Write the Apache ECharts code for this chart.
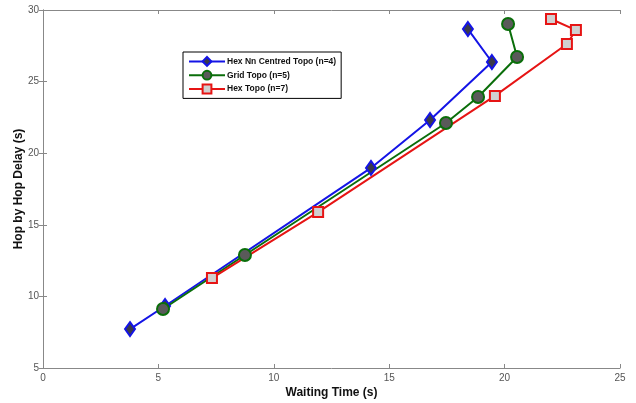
<!DOCTYPE html>
<html>
<head>
<meta charset="utf-8">
<script src="https://cdn.jsdelivr.net/npm/echarts@6/dist/echarts.min.js"></script>
<style>
  html, body { margin: 0; padding: 0; background: #fff; }
  #chart { width: 636px; height: 403px; }
</style>
</head>
<body>
<div id="chart"></div>
<script>
// values, [waiting time, hop delay]
const hexNnData = [[3.77, 7.72], [5.29, 9.33], [14.21, 18.97], [16.77, 22.32], [19.45, 26.37], [18.41, 28.67]];
const gridData = [[5.2, 9.12], [8.75, 12.89], [17.46, 22.11], [18.85, 23.92], [20.54, 26.72], [20.15, 29.02]];
const hexData = [[7.32, 11.28], [11.92, 15.89], [19.58, 24.0], [22.7, 27.63], [23.09, 28.6], [22.01, 29.37]];
const seriesNames = ['Hex Nn Centred Topo (n=4)', 'Grid Topo (n=5)', 'Hex Topo (n=7)'];

const chart = echarts.init(document.getElementById('chart'));

const labelFont = { color: '#555', fontSize: 10, fontFamily: 'Liberation Sans, Arial' };
const frameLine = { show: true, lineStyle: { color: '#888', width: 1 } };
const tick = { show: true, inside: true, length: 4, lineStyle: { color: '#888' } };

const option = {
    animation: false,
    grid: { left: 43, right: 16, top: 10, bottom: 35, outerBoundsMode: 'none', containLabel: false },
    legend: {
        orient: 'vertical',
        left: 183,
        top: 52,
        padding: [4, 5, 4, 5],
        itemGap: 3,
        itemWidth: 36,
        itemHeight: 11,
        borderColor: '#000',
        borderWidth: 1,
        backgroundColor: '#fff',
        textStyle: { fontSize: 8.5, fontWeight: 'bold', fontFamily: 'Liberation Sans, Arial', color: '#111', padding: [0, 0, 0, -3] },
        data: seriesNames
    },
    xAxis: [
        {
            type: 'value', min: 0, max: 25, interval: 5,
            name: 'Waiting Time (s)', nameLocation: 'middle', nameGap: 19, nameMoveOverlap: false,
            nameTextStyle: { fontSize: 12, fontWeight: 'bold', color: '#111', fontFamily: 'Liberation Sans, Arial' },
            axisLine: frameLine, axisTick: tick, splitLine: { show: false },
            axisLabel: Object.assign({ margin: 5 }, labelFont)
        },
        {
            type: 'value', min: 0, max: 25, interval: 5, position: 'top',
            axisLine: frameLine, axisTick: tick, splitLine: { show: false }, axisLabel: { show: false }
        }
    ],
    yAxis: [
        {
            type: 'value', min: 5, max: 30, interval: 5,
            name: 'Hop by Hop Delay (s)', nameLocation: 'middle', nameGap: 18, nameMoveOverlap: false,
            nameTextStyle: { fontSize: 12, fontWeight: 'bold', color: '#111', fontFamily: 'Liberation Sans, Arial' },
            axisLine: frameLine, axisTick: tick, splitLine: { show: false },
            axisLabel: Object.assign({ margin: 4 }, labelFont)
        },
        {
            type: 'value', min: 5, max: 30, interval: 5, position: 'right',
            axisLine: frameLine, axisTick: tick, splitLine: { show: false }, axisLabel: { show: false }
        }
    ],
    series: [
        {
            name: seriesNames[0], type: 'line', data: hexNnData,
            symbol: 'diamond', symbolSize: [10, 14], showAllSymbol: true,
            lineStyle: { color: '#1414e6', width: 2 },
            itemStyle: { color: '#3a3a4a', borderColor: '#1414e6', borderWidth: 2 }
        },
        {
            name: seriesNames[1], type: 'line', data: gridData,
            symbol: 'circle', symbolSize: 12, showAllSymbol: true,
            lineStyle: { color: '#0a6e0a', width: 2 },
            itemStyle: { color: '#5a5a5a', borderColor: '#0a6e0a', borderWidth: 2 }
        },
        {
            name: seriesNames[2], type: 'line', data: hexData,
            symbol: 'rect', symbolSize: 10, showAllSymbol: true,
            lineStyle: { color: '#e61414', width: 2 },
            itemStyle: { color: '#d0d0d0', borderColor: '#e61414', borderWidth: 2 }
        }
    ]
};

chart.setOption(option);
</script>
</body>
</html>
